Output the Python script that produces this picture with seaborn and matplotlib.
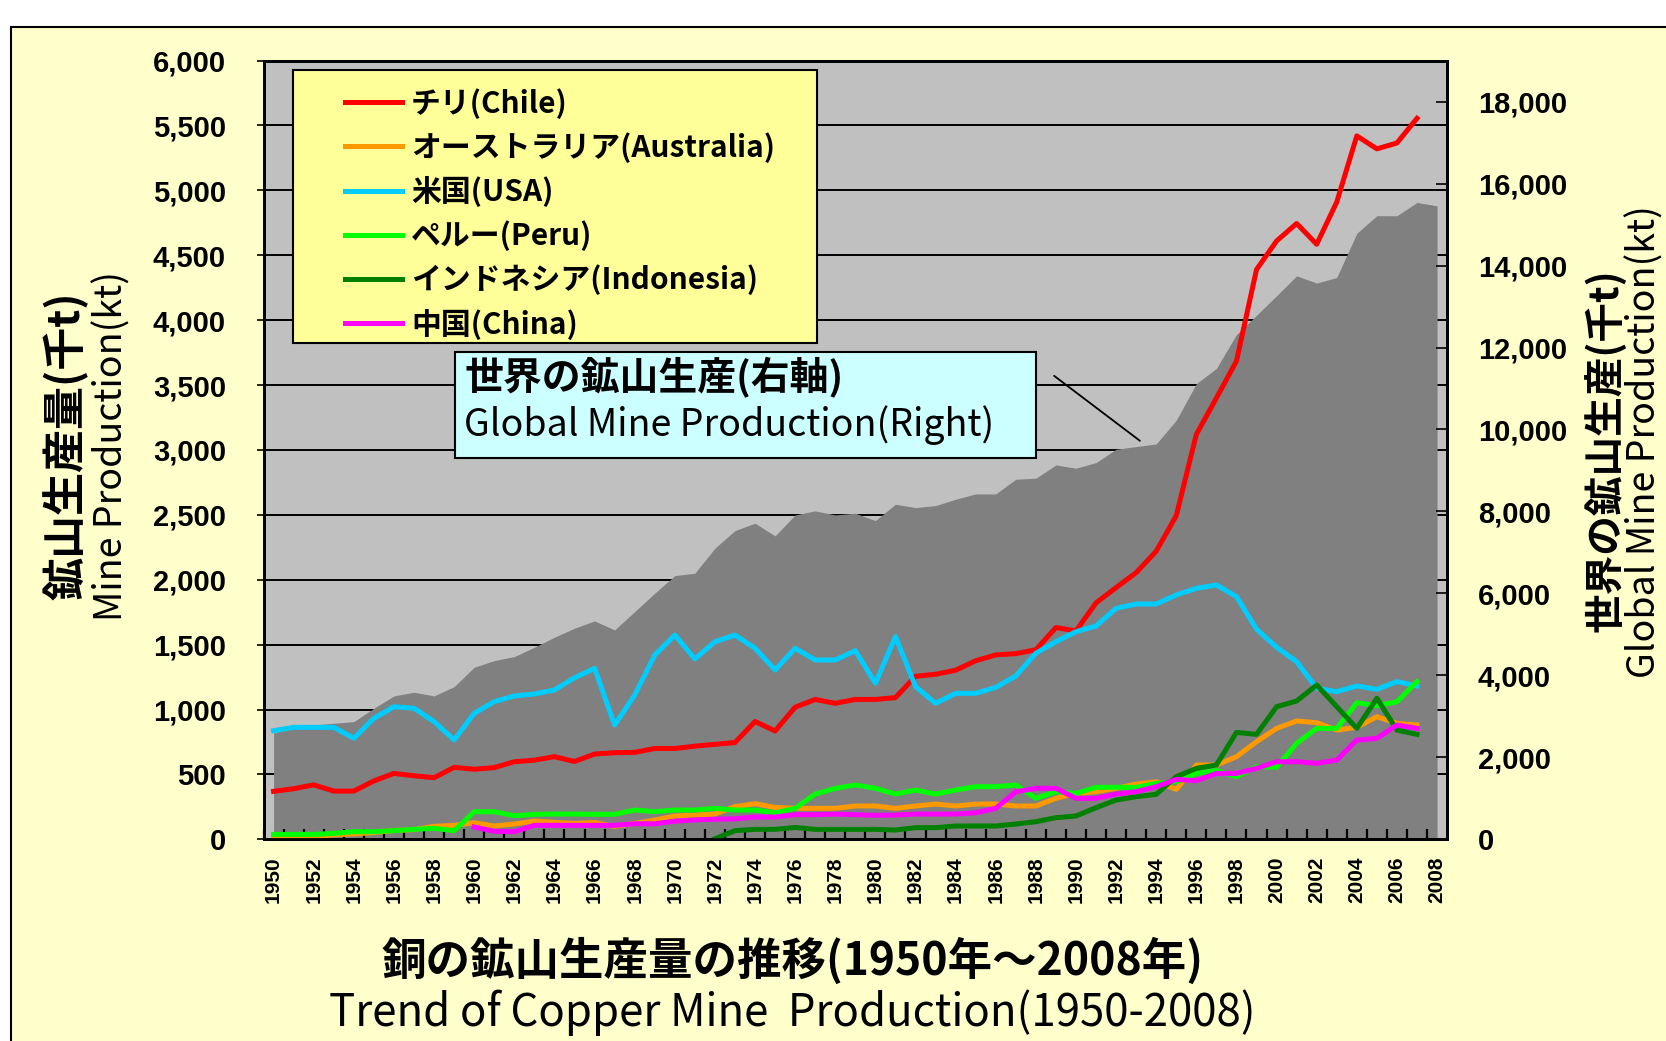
import matplotlib
matplotlib.use("Agg")
import matplotlib.pyplot as plt
from matplotlib.patches import Rectangle
from matplotlib.ticker import FuncFormatter
import seaborn as sns
import pandas as pd

plt.rcParams['font.family'] = ['Noto Sans CJK JP', 'DejaVu Sans']

# data (kt)
years = list(range(1950, 2008))
years_world = list(range(1950, 2009))

chile = [370, 390, 420, 372, 372, 450, 508, 490, 475, 555,
         540, 553, 598, 610, 637, 600, 657, 668, 670, 700,
         700, 718, 732, 746, 908, 835, 1018, 1078, 1048, 1078,
         1078, 1092, 1256, 1272, 1303, 1376, 1421, 1431, 1461, 1632,
         1606, 1822, 1940, 2055, 2220, 2494, 3120, 3400, 3685, 4390,
         4610, 4745, 4585, 4910, 5420, 5320, 5365, 5555]
australia = [15, 15, 18, 35, 42, 52, 68, 75, 100, 108,
             128, 103, 118, 141, 131, 123, 130, 100, 123, 149,
             180, 187, 195, 252, 275, 246, 239, 239, 239, 257,
             257, 239, 257, 272, 257, 272, 272, 257, 257, 316,
             354, 367, 393, 426, 444, 385, 573, 573, 637, 752,
             855, 912, 899, 842, 863, 945, 894, 881]
usa = [837, 863, 863, 863, 779, 933, 1022, 1010, 907, 766,
       971, 1061, 1105, 1120, 1151, 1245, 1318, 881, 1112, 1420,
       1574, 1390, 1523, 1574, 1472, 1305, 1472, 1382, 1382, 1454,
       1203, 1562, 1177, 1048, 1125, 1125, 1171, 1259, 1434, 1523,
       1600, 1644, 1780, 1813, 1813, 1883, 1934, 1960, 1870, 1619,
       1480, 1369, 1164, 1138, 1182, 1156, 1215, 1182]
peru = [38, 38, 38, 46, 59, 59, 67, 77, 85, 67,
        213, 213, 182, 193, 195, 195, 193, 193, 226, 213,
        226, 226, 239, 226, 226, 205, 239, 349, 393, 419,
        393, 349, 380, 349, 380, 406, 406, 419, 316, 367,
        354, 401, 401, 401, 431, 444, 508, 530, 483, 560,
        555, 740, 855, 855, 1053, 1030, 1060, 1215]
indonesia = [None] * 22 + [5, 67, 77, 77, 92, 77, 77, 77,
             77, 72, 90, 90, 103, 103, 103, 118, 136, 167,
             180, 244, 303, 329, 347, 483, 547, 573, 824, 809,
             1022, 1066, 1189, 1022, 855, 1087, 842, 809]
china = [None] * 10 + [95, 62, 59, 108, 108, 108, 108, 108, 120, 120,
         140, 150, 155, 158, 172, 172, 190, 190, 195, 190,
         185, 187, 195, 195, 195, 205, 239, 367, 393, 393,
         316, 316, 349, 367, 406, 462, 452, 508, 508, 547,
         598, 598, 586, 611, 765, 778, 881, 855]
world = [2589, 2767, 2791, 2832, 2873, 3198, 3499, 3589, 3499, 3726,
         4199, 4361, 4459, 4687, 4931, 5151, 5329, 5109, 5556, 6005,
         6435, 6493, 7103, 7533, 7713, 7403, 7915, 8013, 7915, 7957,
         7776, 8176, 8094, 8143, 8298, 8428, 8428, 8786, 8811, 9135,
         9055, 9192, 9518, 9582, 9648, 10227, 11118, 11490, 12316, 12786,
         13263, 13749, 13571, 13709, 14786, 15215, 15215, 15538, 15457]

names = ['チリ(Chile)', 'オーストラリア(Australia)', '米国(USA)',
         'ペルー(Peru)', 'インドネシア(Indonesia)', '中国(China)']
colors = ['#FF0000', '#FF9900', '#00CCFF', '#00FF00', '#008000', '#FF00FF']
series = [chile, australia, usa, peru, indonesia, china]

df = pd.DataFrame({'year': years * len(names),
                   'country': [n for n in names for _ in years],
                   'kt': [v for s in series for v in s]}).dropna()

LEFT_MAX = 6000
RIGHT_MAX = 19000

fig = plt.figure(figsize=(16.66, 10.41), dpi=100, facecolor='white')
fig.patches.append(Rectangle((10.6 / 1666, -0.05), 1.2, 0.9745 + 0.05,
                             transform=fig.transFigure, facecolor='#FFFFCC',
                             edgecolor='black', lw=1.5, zorder=-10))

ax = fig.add_axes([0.1582, 0.1937, 0.7104, 0.7481])
ax.set_facecolor('#C0C0C0')
ax2 = ax.twinx()
ax.yaxis.tick_right()
ax2.yaxis.tick_left()

# world production area on the right axis
for v in range(500, LEFT_MAX, 500):
    ax.axhline(v * RIGHT_MAX / LEFT_MAX, color='black', lw=1.4, zorder=0.5)
ax.fill_between(years_world, world, color='#808080', lw=0, zorder=1)
ax.set_ylim(0, RIGHT_MAX)
ax.set_yticks(list(range(0, 18001, 2000)))
ax.yaxis.set_major_formatter(FuncFormatter(lambda v, p: f'{int(v):,}'))
ax.tick_params(axis='y', direction='in', length=8, width=1.2, pad=22)
for t in ax.get_yticklabels():
    t.set_fontfamily('Liberation Sans')
    t.set_fontweight('bold')
    t.set_fontsize(21)

# country lines on the left axis
sns.lineplot(data=df, x='year', y='kt', hue='country', hue_order=names,
             palette=dict(zip(names, colors)), linewidth=3.6, ax=ax2)
ax2.set_ylim(0, LEFT_MAX)
ax2.set_yticks(list(range(0, LEFT_MAX + 1, 500)))
ax2.yaxis.set_major_formatter(FuncFormatter(lambda v, p: f'{int(v):,}'))
ax2.tick_params(axis='y', direction='out', length=5, width=1.2, pad=22)
for t in ax2.get_yticklabels():
    t.set_fontfamily('Liberation Sans')
    t.set_fontweight('bold')
    t.set_fontsize(21)
ax2.set_xlabel('')
ax2.set_ylabel('')

ax.set_xlim(1949.5, 2008.5)
ax.set_xticks(list(range(1950, 2009, 2)))
ax.set_xticks([y + 0.5 for y in range(1949, 2008)], minor=True)
ax.tick_params(axis='x', which='major', length=0, pad=12)
ax.tick_params(axis='x', which='minor', direction='in', length=7, width=1.6)
for t in ax.get_xticklabels():
    t.set_rotation(90)
    t.set_fontfamily('Liberation Sans')
    t.set_fontweight('bold')
    t.set_fontsize(15)

for a in (ax, ax2):
    for s in a.spines.values():
        s.set_linewidth(2)
        s.set_color('black')

# legend box
ax2.add_patch(Rectangle((0.0249, 0.637), 0.4428, 0.351, transform=ax2.transAxes,
                        facecolor='#FFFF99', edgecolor='black', lw=1.5, zorder=5))
handles, labels = ax2.get_legend_handles_labels()
leg = ax2.legend(handles, labels, loc='upper left', bbox_to_anchor=(0.0564, 0.984),
                 frameon=False, borderpad=0, handlelength=1.9, handletextpad=0.3,
                 labelspacing=0.45, prop={'size': 21.5, 'weight': 'bold'})
leg.set_zorder(6)

# note box for the world production
ax2.add_patch(Rectangle((0.1618, 0.4897), 0.4909, 0.1361, transform=ax2.transAxes,
                        facecolor='#CCFFFF', edgecolor='black', lw=1.5, zorder=5))
ax2.text(0.1694, 0.5937, '世界の鉱山生産(右軸)', transform=ax2.transAxes,
         fontsize=28, fontweight='bold', va='center', ha='left', zorder=6)
ax2.text(0.1694, 0.5321, 'Global Mine Production(Right)', transform=ax2.transAxes,
         fontsize=27, va='center', ha='left', zorder=6)
ax.annotate('', xy=(1993.3, world[years_world.index(1993)] + 100), xytext=(1988.8, 11350),
            arrowprops=dict(arrowstyle='-', color='black', lw=1.3), zorder=3)

# axis titles
fig.text(0.0396, 0.5716, '鉱山生産量(千t)', rotation=90, ha='center', va='center',
         fontsize=31, fontweight='bold')
fig.text(0.067, 0.5716, 'Mine Production(kt)', rotation=90, ha='center', va='center',
         fontsize=27)
fig.text(0.9643, 0.568, '世界の鉱山生産(千t)', rotation=90, ha='center', va='center',
         fontsize=28.5, fontweight='bold')
fig.text(0.9873, 0.576, 'Global Mine Production(kt)', rotation=90, ha='center', va='center',
         fontsize=27)

fig.text(0.4754, 0.0763, '銅の鉱山生産量の推移(1950年～2008年)', ha='center', va='center',
         fontsize=32, fontweight='bold')
fig.text(0.4754, 0.0273, 'Trend of Copper Mine  Production(1950-2008)', ha='center',
         va='center', fontsize=31.5)

fig.savefig('out.png', dpi=100, facecolor=fig.get_facecolor())
